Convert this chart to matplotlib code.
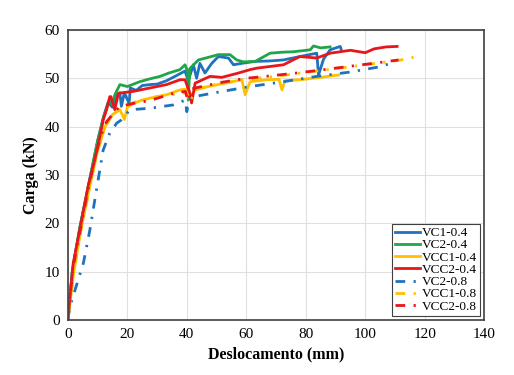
import matplotlib.pyplot as plt

# --- dados ---
vc1_04_x = [0, 1.5, 4, 7, 10, 12, 13.5, 15, 16.5, 17.5, 18, 19, 20.6, 21, 23, 25, 27.6, 30, 33.2, 36,
            39.4, 40.5, 42.2, 43.3, 44.4, 46.1, 48.4, 50.6, 54, 55.7, 58.5, 63, 68, 72.5, 78, 83.7,
            84.3, 86, 88.2, 91.6, 92]
vc1_04_y = [0, 10, 19, 28, 37, 42, 45, 44, 46.5, 47, 44.2, 47, 44.8, 48, 47.5, 48.5, 48.7, 48.8, 49.5, 50.4,
            51.5, 49.5, 52.8, 50, 53.1, 51.1, 53.1, 54.5, 54.2, 52.8, 53.1, 53.5, 53.6, 53.8, 54.5, 55.2,
            50.7, 54, 55.9, 56.6, 55.8]

vc2_04_x = [0, 1.5, 4, 7, 10, 12, 14, 15, 15.8, 17.5, 20, 24.2, 27, 31, 34, 37.7, 39.4, 40.3, 40.5,
            41, 43.9, 47, 50.6, 54.5, 56.8, 59, 63, 68, 72, 75.9, 81.5, 82.6, 85, 88.2]
vc2_04_y = [0, 10, 19, 28, 37, 42, 45.5, 44.5, 46.6, 48.7, 48.3, 49.3, 49.8, 50.4, 51.1, 51.8, 52.8, 51.4, 45.5,
            52, 53.8, 54.3, 54.9, 54.9, 53.8, 53.4, 53.5, 55.2, 55.4, 55.5, 55.9, 56.7, 56.3, 56.5]

vcc1_04_x = [0, 2, 4.5, 7.5, 10, 12.5, 15, 17.5, 19, 20, 22, 25, 27.6, 30, 33.2, 37.7, 40, 41, 42.8,
             47.2, 52.9, 58.5, 59.6, 61.3, 66.9, 71, 72, 73, 78, 85, 91]
vcc1_04_y = [0, 10, 19, 28, 35, 40, 42.5, 43.5, 41.5, 44, 44.8, 45.5, 45.9, 46.2, 46.6, 47.6, 47.8, 46, 47.6,
             48.3, 49, 49.7, 46.6, 49.3, 49.7, 49.8, 47.6, 49.5, 49.7, 50.2, 50.7]

vcc2_04_x = [0, 1.8, 4, 6.8, 9, 10.8, 11.9, 13, 14.1, 14.5, 15.8, 17, 22, 27.6, 33.2, 37.7, 39.4, 41,
             41.6, 42.8, 47.8, 51.8, 56.8, 61.3, 63.5, 72.5, 78, 83.7, 88.2, 95, 100, 103, 107, 110.7]
vcc2_04_y = [0, 11.7, 18.6, 27.6, 33, 38, 41.4, 43.5, 46.2, 46.2, 43.5, 46.9, 47.3, 48, 48.7, 49.7, 49.7, 47,
             44.9, 49, 50.4, 50.2, 51, 51.8, 52.1, 52.8, 54.5, 54.2, 55.2, 55.8, 55.3, 56.1, 56.5, 56.6]

vc2_08_x = [0, 0.7, 5.2, 7.4, 9.7, 11.9, 14, 16.4, 18, 20.9, 27.6, 35.5, 39.5, 40, 41, 45, 52, 61.3,
            72.5, 83.7, 95, 105, 108]
vc2_08_y = [0, 2.8, 11.7, 18.6, 27.2, 35.2, 38.5, 40.7, 41.4, 43.5, 43.8, 44.5, 45.5, 43.1, 46, 46.5, 47.3, 48.3,
            49.3, 50.4, 51.3, 52.4, 53]

vcc1_08_x = [0, 2, 4.5, 7.5, 10, 12.5, 15.3, 18, 22, 29.9, 35, 40, 41, 43, 50, 60, 70, 77, 85, 95,
             105, 112, 116.5]
vcc1_08_y = [0, 10, 19, 28, 35, 40, 42.8, 43.8, 45, 46.2, 46.6, 47, 45, 47.8, 48.8, 49.8, 50.4, 51, 51.6, 52.4,
             53.2, 53.8, 54.4]

vcc2_08_x = [0, 1.8, 4, 6.8, 9, 11, 13, 15, 17.5, 22, 27.6, 35.5, 39.5, 40.5, 41.5, 45, 52, 60, 68,
             77, 85, 95, 104, 111.2]
vcc2_08_y = [0, 11, 18, 27, 33, 38, 41, 42.5, 44.2, 44.8, 45.4, 46.9, 47.3, 45.2, 47.8, 48.3, 49.2, 50, 50.5,
             51.1, 51.7, 52.5, 53.2, 53.8]

labels = ['VC1-0.4', 'VC2-0.4', 'VCC1-0.4', 'VCC2-0.4', 'VC2-0.8', 'VCC1-0.8', 'VCC2-0.8']

azul = '#1f72bd'
verde = '#1fa64a'
amarelo = '#ffc000'
vermelho = '#e8161b'
tracejado = (0, (3.5, 3, 0.8, 3))

plt.rcParams['font.family'] = ['Liberation Serif', 'DejaVu Serif']

fig = plt.figure(figsize=(5.14, 3.75), dpi=100)
ax = fig.add_axes([0.132, 0.147, 0.81, 0.773])

ax.plot(vc1_04_x, vc1_04_y, color=azul, lw=2, label=labels[0])
ax.plot(vc2_04_x, vc2_04_y, color=verde, lw=2, label=labels[1])
ax.plot(vcc1_04_x, vcc1_04_y, color=amarelo, lw=2, label=labels[2])
ax.plot(vcc2_04_x, vcc2_04_y, color=vermelho, lw=2, label=labels[3])
ax.plot(vc2_08_x, vc2_08_y, color=azul, lw=2, ls=tracejado, label=labels[4])
ax.plot(vcc1_08_x, vcc1_08_y, color=amarelo, lw=2, ls=tracejado, label=labels[5])
ax.plot(vcc2_08_x, vcc2_08_y, color=vermelho, lw=2, ls=tracejado, label=labels[6])

ax.set_xlim(0, 140)
ax.set_ylim(0, 60)
ax.set_xticks(range(0, 141, 20))
ax.set_yticks(range(0, 61, 10))
ax.tick_params(labelsize=11, length=0, pad=6)
ax.grid(True, color='#e0e0e0', lw=0.8)
ax.set_axisbelow(True)
for s in ax.spines.values():
    s.set_color('#404040')
    s.set_linewidth(1.2)

ax.set_xlabel('Deslocamento (mm)', fontsize=11.5, fontweight='bold')
ax.set_ylabel('Carga (kN)', fontsize=11.5, fontweight='bold')

leg = ax.legend(loc='lower right', fontsize=9.5, handlelength=1.9, handletextpad=0.1,
                labelspacing=0.0, borderpad=0.25, fancybox=False, framealpha=1,
                borderaxespad=0.3)
leg.get_frame().set_edgecolor('#404040')
leg.get_frame().set_linewidth(0.8)

fig.savefig('out.png', dpi=100)
